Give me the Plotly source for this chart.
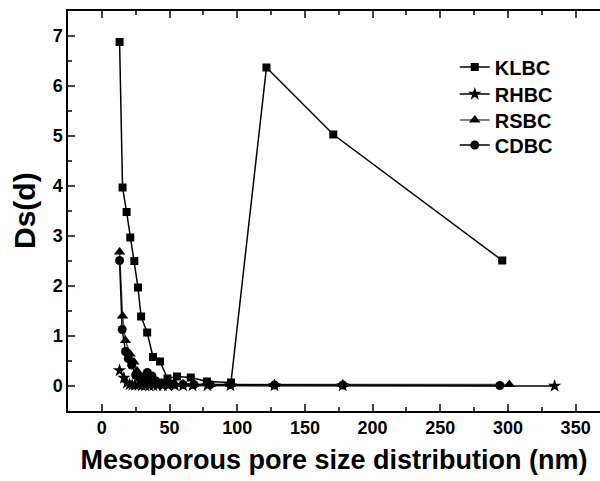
import plotly.graph_objects as go

# KLBC
klbc_x = [13.1, 15.3, 18.3, 21.0, 24.0, 26.7, 29.0, 33.5, 37.8, 43.0, 48.5, 55.5, 65.7, 77.6, 95.4, 121.6, 171.0, 295.8]
klbc_y = [6.88, 3.97, 3.48, 2.97, 2.50, 1.97, 1.39, 1.07, 0.58, 0.49, 0.15, 0.19, 0.17, 0.09, 0.07, 6.37, 5.03, 2.51]
# RHBC
rhbc_x = [13.1, 16.3, 18.5, 20.5, 22.5, 24.5, 27.0, 29.5, 32.0, 35.0, 38.0, 41.0, 45.0, 49.0, 54.0, 60.0, 67.0, 78.0, 95.0, 127.5, 178.0, 334.5]
rhbc_y = [0.31, 0.16, 0.06, 0.03, 0.02, 0.02, 0.02, 0.01, 0.01, 0.01, 0.01, 0.01, 0.01, 0.01, 0.01, 0.01, 0.01, 0.01, 0.01, 0.01, 0.01, 0.0]
# RSBC
rsbc_x = [13.1, 15.3, 17.5, 20.8, 23.7, 26.0, 28.5, 31.0, 34.0, 37.0, 40.0, 44.0, 48.0, 53.0, 60.0, 68.0, 80.0, 95.0, 127.5, 178.0, 301.0]
rsbc_y = [2.68, 1.40, 0.91, 0.64, 0.48, 0.30, 0.20, 0.13, 0.10, 0.08, 0.06, 0.05, 0.05, 0.04, 0.04, 0.03, 0.03, 0.04, 0.03, 0.03, 0.03]
# CDBC
cdbc_x = [13.1, 15.0, 17.5, 19.5, 22.0, 25.0, 28.0, 31.0, 33.6, 37.0, 40.0, 44.0, 48.0, 53.0, 60.0, 68.0, 80.0, 95.0, 127.5, 178.0, 294.0]
cdbc_y = [2.51, 1.13, 0.69, 0.55, 0.42, 0.22, 0.15, 0.18, 0.27, 0.20, 0.10, 0.06, 0.05, 0.04, 0.03, 0.03, 0.03, 0.03, 0.02, 0.02, 0.01]

x_ticks = [0, 50, 100, 150, 200, 250, 300, 350]
y_ticks = [0, 1, 2, 3, 4, 5, 6, 7]

font_family = "Liberation Sans, Arial, sans-serif"

fig = go.Figure()
series = [
    ("KLBC", klbc_x, klbc_y, "square", 8, "black", "legend"),
    ("RHBC", rhbc_x, rhbc_y, "star", 10, "black", "legend2"),
    ("RSBC", rsbc_x, rsbc_y, "triangle-up", 10, "#555555", "legend3"),
    ("CDBC", cdbc_x, cdbc_y, "circle", 9, "black", "legend4"),
]
for name, xs, ys, sym, sz, lc, lg in series:
    fig.add_trace(go.Scatter(
        x=xs, y=ys, name=name, mode="lines+markers", legend=lg,
        line=dict(color=lc, width=1.5),
        marker=dict(symbol=sym, size=sz, color="black", line=dict(width=0)),
    ))

legend_y = [0.86, 0.7925, 0.7275, 0.665]
legend_common = dict(x=0.727, xanchor="left", yanchor="middle",
                     bgcolor="rgba(0,0,0,0)",
                     font=dict(size=20, family=font_family, weight="bold"),
                     itemsizing="trace")

fig.update_layout(
    width=600, height=481,
    margin=dict(l=68, r=0, t=11, b=70),
    paper_bgcolor="white", plot_bgcolor="white",
    font=dict(family=font_family, color="black"),
    showlegend=True,
    legend=dict(y=legend_y[0], **legend_common),
    legend2=dict(y=legend_y[1], **legend_common),
    legend3=dict(y=legend_y[2], **legend_common),
    legend4=dict(y=legend_y[3], **legend_common),
    xaxis=dict(
        range=[-25, 368], tickvals=x_ticks, ticks="inside", ticklen=7, tickwidth=1.5,
        showline=True, linecolor="black", linewidth=1.5, mirror="ticks",
        showgrid=False, zeroline=False,
        tickfont=dict(size=18, family=font_family, weight="bold"),
        minor=dict(dtick=25, ticks="inside", ticklen=4, tickwidth=1.5, showgrid=False),
        title=dict(text="Mesoporous pore size distribution (nm)",
                   font=dict(size=27, family=font_family, weight="bold"), standoff=13),
    ),
    yaxis=dict(
        range=[-0.5, 7.5], tickvals=y_ticks, ticks="inside", ticklen=7, tickwidth=1.5,
        showline=True, linecolor="black", linewidth=1.5, mirror=False,
        showgrid=False, zeroline=False,
        tickfont=dict(size=18, family=font_family, weight="bold"),
        minor=dict(dtick=0.5, ticks="inside", ticklen=4, tickwidth=1.5, showgrid=False),
    ),
    annotations=[dict(
        text="Ds(d)", textangle=-90, xref="paper", yref="paper",
        x=-0.0827, y=0.5, xanchor="center", yanchor="middle", showarrow=False,
        font=dict(size=30, family=font_family, weight="bold", color="black"),
    )],
)

fig.write_html("out.html")
